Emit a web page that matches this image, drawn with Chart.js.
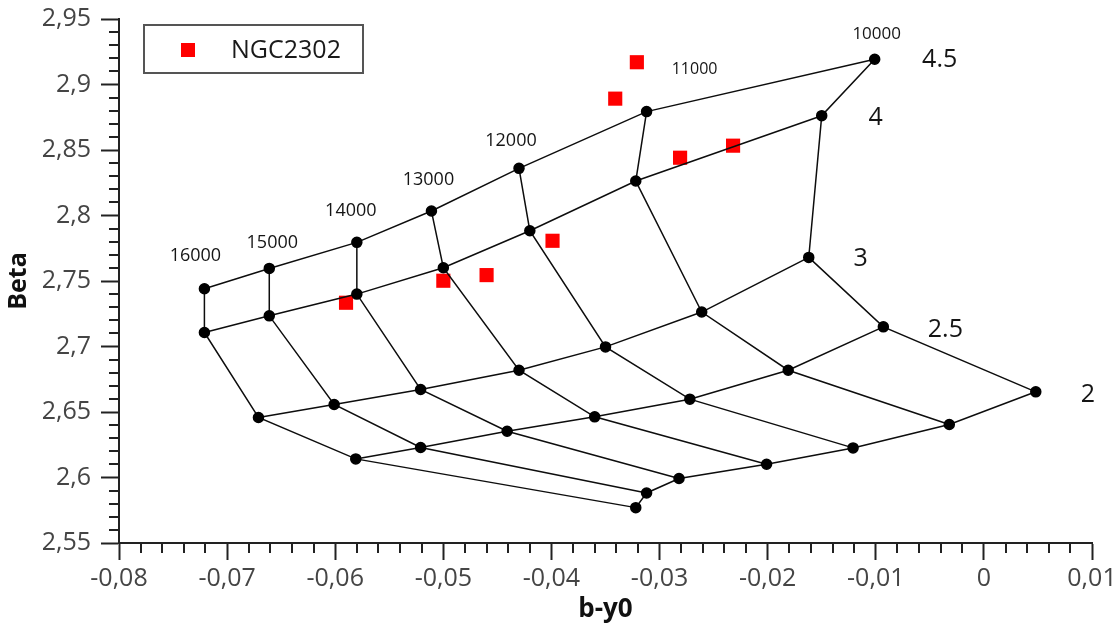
<!DOCTYPE html>
<html>
<head>
<meta charset="utf-8">
<script src="https://cdn.jsdelivr.net/npm/chart.js@4/dist/chart.umd.min.js"></script>
<style>
  html, body { margin: 0; padding: 0; background: #ffffff; }
  #wrap { width: 1119px; height: 626px; }
</style>
</head>
<body>
<div id="wrap"><canvas id="c" width="1119" height="626"></canvas></div>
<script>
// Effective temperatures (K) of the model grid, hottest first
const teff = [16000, 15000, 14000, 13000, 12000, 11000, 10000];
// Surface gravities (log g) of the model grid
const logg = ['4.5', '4', '3', '2.5', '2'];

// Model colours: b-y0 and Beta per log g, ordered as teff
const by_g45   = [-0.0721, -0.0661, -0.0580, -0.0511, -0.0430, -0.0312, -0.0101];
const beta_g45 = [2.7441, 2.7596, 2.7795, 2.8034, 2.8360, 2.8793, 2.9193];
const by_g40   = [-0.0721, -0.0661, -0.0580, -0.0500, -0.0420, -0.0322, -0.0150];
const beta_g40 = [2.7107, 2.7234, 2.7400, 2.7601, 2.7884, 2.8263, 2.8762];
const by_g30   = [-0.0671, -0.0601, -0.0521, -0.0430, -0.0350, -0.0261, -0.0162];
const beta_g30 = [2.6458, 2.6557, 2.6672, 2.6819, 2.6997, 2.7263, 2.7680];
const by_g25   = [-0.0581, -0.0521, -0.0441, -0.0360, -0.0272, -0.0181, -0.0093];
const beta_g25 = [2.6142, 2.6229, 2.6353, 2.6463, 2.6598, 2.6819, 2.7150];
const by_g20   = [-0.0322, -0.0312, -0.0282, -0.0201, -0.0121, -0.0032, 0.0048];
const beta_g20 = [2.5770, 2.5882, 2.5992, 2.6101, 2.6226, 2.6405, 2.6654];

// NGC2302 stars
const clusterBy   = [-0.0321, -0.0341, -0.0281, -0.0232, -0.0399, -0.0460, -0.0500, -0.0590];
const clusterBeta = [2.9170, 2.8892, 2.8441, 2.8533, 2.7807, 2.7545, 2.7502, 2.7334];

// Axis ticks
const xTickValues = [-0.08, -0.07, -0.06, -0.05, -0.04, -0.03, -0.02, -0.01, 0, 0.01];
const xTickLabels = ['-0,08', '-0,07', '-0,06', '-0,05', '-0,04', '-0,03', '-0,02', '-0,01', '0', '0,01'];
const yTickValues = [2.55, 2.6, 2.65, 2.7, 2.75, 2.8, 2.85, 2.9, 2.95];
const yTickLabels = ['2,55', '2,6', '2,65', '2,7', '2,75', '2,8', '2,85', '2,9', '2,95'];

const gridBy = [by_g45, by_g40, by_g30, by_g25, by_g20];
const gridBeta = [beta_g45, beta_g40, beta_g30, beta_g25, beta_g20];

// ---- styling ----
const FONT = "'Open Sans', 'Noto Sans', sans-serif";
const LINE = '#0d0d0d';
const AXIS = '#222222';
const TICK_TEXT = '#454545';

// pixel offsets of the annotation texts from the node they name
const teffLabelOffsets = [[-9, -33], [3, -26], [-6, -31], [-3, -31], [-8, -27], [48, -42], [2, -25]];
const teffLabelSizes = [18, 18, 18, 18, 18, 16, 17];
const loggLabelOffsets = [[65, 1], [54, 2], [52, 1], [62, 3], [52, 3]];

const datasets = [];
// lines of constant log g, with the model nodes
logg.forEach((g, i) => {
  datasets.push({
    label: 'log g ' + g,
    data: teff.map((t, j) => ({ x: gridBy[i][j], y: gridBeta[i][j] })),
    showLine: true,
    borderColor: LINE,
    borderWidth: 1.5,
    pointRadius: 5,
    pointBackgroundColor: '#000000',
    pointBorderColor: '#000000',
    pointBorderWidth: 1.5,
    tension: 0,
    order: 0
  });
});
// lines of constant Teff
teff.forEach((t, j) => {
  datasets.push({
    label: t + ' K',
    data: logg.map((g, i) => ({ x: gridBy[i][j], y: gridBeta[i][j] })),
    showLine: true,
    borderColor: LINE,
    borderWidth: 1.5,
    pointRadius: 0,
    tension: 0,
    order: 1
  });
});
// cluster members
datasets.push({
  label: 'NGC2302',
  data: clusterBy.map((b, k) => ({ x: b, y: clusterBeta[k] })),
  showLine: false,
  pointStyle: 'rect',
  pointRadius: 10,
  pointBackgroundColor: '#ff0000',
  pointBorderColor: '#ff0000',
  pointBorderWidth: 0,
  order: 2
});

// short minor tick marks between the labelled ones
const minorTicks = {
  id: 'minorTicks',
  afterDraw(chart) {
    const { ctx, chartArea: a, scales: { x, y } } = chart;
    ctx.save();
    ctx.strokeStyle = AXIS;
    ctx.lineWidth = 2;
    for (let i = 0; i < xTickValues.length - 1; i++) {
      for (let k = 1; k < 5; k++) {
        const v = xTickValues[i] + (xTickValues[i + 1] - xTickValues[i]) * k / 5;
        const px = Math.round(x.getPixelForValue(v));
        ctx.beginPath();
        ctx.moveTo(px, a.bottom);
        ctx.lineTo(px, a.bottom + 10);
        ctx.stroke();
      }
    }
    for (let i = 0; i < yTickValues.length - 1; i++) {
      for (let k = 1; k < 5; k++) {
        const v = yTickValues[i] + (yTickValues[i + 1] - yTickValues[i]) * k / 5;
        const py = Math.round(y.getPixelForValue(v));
        ctx.beginPath();
        ctx.moveTo(a.left - 10, py);
        ctx.lineTo(a.left, py);
        ctx.stroke();
      }
    }
    ctx.restore();
  }
};

// Teff and log g annotations next to the grid
const gridLabels = {
  id: 'gridLabels',
  afterDatasetsDraw(chart) {
    const { ctx, scales: { x, y } } = chart;
    ctx.save();
    ctx.fillStyle = '#151515';
    ctx.textAlign = 'center';
    ctx.textBaseline = 'middle';
    teff.forEach((t, j) => {
      ctx.font = teffLabelSizes[j] + 'px ' + FONT;
      const px = x.getPixelForValue(by_g45[j]) + teffLabelOffsets[j][0];
      const py = y.getPixelForValue(beta_g45[j]) + teffLabelOffsets[j][1];
      ctx.fillText(String(t), px, py);
    });
    ctx.font = '25px ' + FONT;
    logg.forEach((g, i) => {
      const last = teff.length - 1;
      const px = x.getPixelForValue(gridBy[i][last]) + loggLabelOffsets[i][0];
      const py = y.getPixelForValue(gridBeta[i][last]) + loggLabelOffsets[i][1];
      ctx.fillText(g, px, py);
    });
    ctx.restore();
  }
};

// framed legend in the upper left of the plot
const boxLegend = {
  id: 'boxLegend',
  afterDraw(chart) {
    const ds = chart.data.datasets[chart.data.datasets.length - 1];
    const { ctx } = chart;
    ctx.save();
    ctx.fillStyle = '#ffffff';
    ctx.fillRect(144, 25, 219, 48);
    ctx.strokeStyle = '#555555';
    ctx.lineWidth = 2;
    ctx.strokeRect(144, 25, 219, 48);
    ctx.fillStyle = ds.pointBackgroundColor;
    ctx.fillRect(181, 43, 14, 14);
    ctx.fillStyle = '#1a1a1a';
    ctx.font = '25px ' + FONT;
    ctx.textAlign = 'left';
    ctx.textBaseline = 'middle';
    ctx.fillText(ds.label, 231, 51);
    ctx.restore();
  }
};

new Chart(document.getElementById('c'), {
  type: 'scatter',
  data: { datasets },
  plugins: [minorTicks, gridLabels, boxLegend],
  options: {
    responsive: false,
    animation: false,
    layout: { padding: { top: 19, right: 27, left: 0, bottom: 0 } },
    plugins: { legend: { display: false }, tooltip: { enabled: false } },
    scales: {
      x: {
        type: 'linear',
        min: -0.08,
        max: 0.01,
        afterBuildTicks(scale) { scale.ticks = xTickValues.map(v => ({ value: v })); },
        afterFit(scale) { scale.height = 83; scale.paddingLeft = 0; scale.paddingRight = 0; },
        grid: { drawOnChartArea: false, drawTicks: true, tickLength: 17, tickWidth: 2, tickColor: AXIS },
        border: { display: true, color: AXIS, width: 2 },
        ticks: {
          padding: 4,
          color: TICK_TEXT,
          font: { family: FONT, size: 25 },
          maxRotation: 0,
          autoSkip: false,
          callback: (v, i) => xTickLabels[i]
        },
        title: {
          display: true,
          text: 'b-y0',
          color: '#111111',
          font: { family: FONT, size: 26, weight: 'bold' },
          padding: { top: 0, bottom: 1 }
        }
      },
      y: {
        type: 'linear',
        min: 2.55,
        max: 2.95,
        afterBuildTicks(scale) { scale.ticks = yTickValues.map(v => ({ value: v })); },
        afterFit(scale) { scale.width = 119; scale.paddingTop = 0; scale.paddingBottom = 0; },
        grid: { drawOnChartArea: false, drawTicks: true, tickLength: 18, tickWidth: 2, tickColor: AXIS },
        border: { display: true, color: AXIS, width: 2 },
        ticks: {
          padding: 10,
          color: TICK_TEXT,
          font: { family: FONT, size: 25 },
          autoSkip: false,
          callback: (v, i) => yTickLabels[i]
        },
        title: {
          display: true,
          text: 'Beta',
          color: '#111111',
          font: { family: FONT, size: 25, weight: 'bold' },
          padding: { top: 4, bottom: 0 }
        }
      }
    }
  }
});
</script>
</body>
</html>
